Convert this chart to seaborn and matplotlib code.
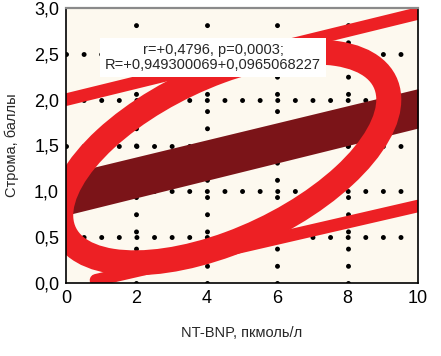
import numpy as np
import matplotlib
matplotlib.use("Agg")
import matplotlib.pyplot as plt
import seaborn as sns
from matplotlib.patches import Ellipse

# ---------------- data ----------------
x_ticks = [0, 2, 4, 6, 8, 10]
x_tick_labels = ["0", "2", "4", "6", "8", "10"]
y_ticks = [0.0, 0.5, 1.0, 1.5, 2.0, 2.5, 3.0]
y_tick_labels = ["0,0", "0,5", "1,0", "1,5", "2,0", "2,5", "3,0"]

# regression band (dark red)
reg_x = [0, 10]
reg_low = [0.74, 1.69]
reg_high = [1.19, 2.12]

# upper and lower prediction lines
upper_x = [0, 10]
upper_y = [2.00, 2.94]
lower_x = [0.85, 10]
lower_y = [0.03, 0.84]

# confidence ellipse: centre, half-extent in x and y, phase shift
ell_cx, ell_cy = 4.51, 1.37
ell_ax, ell_ay = 4.66, 1.15
ell_phase = 0.99

stats_lines = ["r=+0,4796, p=0,0003;", "R=+0,949300069+0,0965068227"]
x_label = "NT-BNP, пкмоль/л"
y_label = "Строма, баллы"

# ---------------- style ----------------
RED = "#ED2024"
DARK = "#7B1418"
BG = "#FDF9EF"

sns.set_style("white")
plt.rcParams["font.family"] = ["Liberation Sans", "DejaVu Sans"]

fig = plt.figure(figsize=(4.41, 3.56), dpi=100)
ax = fig.add_axes([66 / 441, 1 - 283 / 356, 352 / 441, 275 / 356])
ax.set_facecolor(BG)
ax.set_xlim(0, 10)
ax.set_ylim(0, 3)

# dotted grid
DOT_LW = 3.6
for gx in [2, 4, 6, 8]:
    ax.axvline(gx, color="black", lw=DOT_LW, linestyle=(0, (0.001, 12.375 / DOT_LW)),
               dash_capstyle="round", zorder=1)
for gy in [0.5, 1.0, 1.5, 2.0, 2.5]:
    ax.axhline(gy, color="black", lw=DOT_LW, linestyle=(0, (0.001, 12.672 / DOT_LW)),
               dash_capstyle="round", zorder=1)

# regression band
ax.fill_between(reg_x, reg_low, reg_high, color=DARK, lw=0, zorder=2)

# prediction lines
sns.lineplot(x=upper_x, y=upper_y, ax=ax, color=RED, lw=9,
             solid_capstyle="round", zorder=3)
sns.lineplot(x=lower_x, y=lower_y, ax=ax, color=RED, lw=9,
             solid_capstyle="round", zorder=3)

# ellipse (parametric -> patch parameters)
M = np.array([[ell_ax, 0.0],
              [ell_ay * np.cos(ell_phase), ell_ay * np.sin(ell_phase)]])
S = M @ M.T
vals, vecs = np.linalg.eigh(S)
order = np.argsort(vals)[::-1]
vals, vecs = vals[order], vecs[:, order]
angle = np.degrees(np.arctan2(vecs[1, 0], vecs[0, 0]))
ell = Ellipse((ell_cx, ell_cy), 2 * np.sqrt(vals[0]), 2 * np.sqrt(vals[1]),
              angle=angle, fill=False, ec=RED, lw=18, zorder=4)
ax.add_patch(ell)

# statistics box
ax.text(4.18, 2.46, "\n".join(stats_lines), ha="center", va="center",
        fontsize=10.5, linespacing=1.1, zorder=6,
        bbox=dict(boxstyle="square,pad=0.35", fc="white", ec="none"))

# ticks and labels
ax.set_xticks(x_ticks)
ax.set_xticklabels(x_tick_labels)
ax.set_yticks(y_ticks)
ax.set_yticklabels(y_tick_labels)
ax.tick_params(length=0, labelsize=12, pad=5, colors="black")
for lbl in ax.get_xticklabels() + ax.get_yticklabels():
    lbl.set_family(["Liberation Sans Narrow", "Liberation Sans"])
    lbl.set_fontsize(13)
ax.set_xlabel(x_label, fontsize=10.5, labelpad=14)
ax.set_ylabel(y_label, fontsize=10.5, labelpad=11)

for side in ["left", "bottom", "right"]:
    ax.spines[side].set_color("black")
    ax.spines[side].set_linewidth(1.2)
ax.spines["top"].set_color("#8a8a8a")
ax.spines["top"].set_linewidth(1.6)
for sp in ax.spines.values():
    sp.set_zorder(7)

fig.savefig("out.png", dpi=100, facecolor="white")
